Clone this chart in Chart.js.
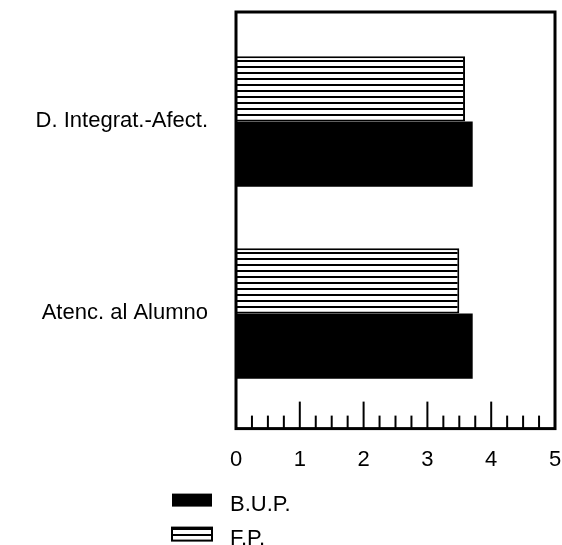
<!DOCTYPE html>
<html>
<head>
<meta charset="utf-8">
<script src="https://cdn.jsdelivr.net/npm/chart.js@4.4.1/dist/chart.umd.min.js"></script>
<style>
  html, body { margin: 0; padding: 0; background: #fff; }
  #wrap { width: 562px; height: 545px; }
</style>
</head>
<body>
<div id="wrap"><canvas id="chart" width="562" height="545"></canvas></div>
<script>
// Data
const CATEGORIES = ['D. Integrat.-Afect.', 'Atenc. al Alumno'];
const SERIES_LABELS = ['B.U.P.', 'F.P.'];
const BUP_VALUES = [3.71, 3.71];
const FP_VALUES = [3.59, 3.50];
const X_MIN = 0;
const X_MAX = 5;
const X_MINOR_STEP = 0.25;

Chart.defaults.font.family = "'Liberation Sans', Arial, sans-serif";
Chart.defaults.color = '#000';

// Horizontal stripes for the F.P. bars
function makeStripes() {
  const c = document.createElement('canvas');
  c.width = 6;
  c.height = 6;
  const g = c.getContext('2d');
  g.fillStyle = '#fff';
  g.fillRect(0, 0, 6, 6);
  g.fillStyle = '#000';
  g.fillRect(0, 0, 6, 2);
  return g.createPattern(c, 'repeat');
}
const stripes = makeStripes();

/**
 * Frame round the plot and the inside ticks on the bottom axis
 */
const framePlugin = {
  id: 'frame',
  afterDraw(chart) {
    const { ctx, chartArea } = chart;
    const xScale = chart.scales.x;
    ctx.save();
    ctx.strokeStyle = '#000';
    ctx.lineWidth = 3;
    ctx.strokeRect(chartArea.left, chartArea.top, chartArea.width, chartArea.height);

    ctx.lineWidth = 2;
    xScale.ticks.forEach(t => {
      const x = xScale.getPixelForValue(t.value);
      const len = Number.isInteger(t.value) ? 27 : 13;
      ctx.beginPath();
      ctx.moveTo(x, chartArea.bottom);
      ctx.lineTo(x, chartArea.bottom - len);
      ctx.stroke();
    });
    ctx.restore();
  }
};

/**
 * Stacked legend below the axis labels (B.U.P. first, as in the original)
 */
const legendPlugin = {
  id: 'stackLegend',
  afterDraw(chart) {
    const { ctx, chartArea } = chart;
    const items = chart.data.datasets.slice().reverse();
    ctx.save();
    ctx.font = "22px 'Liberation Sans', Arial, sans-serif";
    ctx.textBaseline = 'middle';
    items.forEach((ds, i) => {
      const cy = chartArea.bottom + 71 + i * 34;
      ctx.fillStyle = ds.backgroundColor;
      ctx.fillRect(172, cy - 6, 40, 13);
      if (ds.borderWidth) {
        ctx.strokeStyle = '#000';
        ctx.lineWidth = 2;
        ctx.strokeRect(172, cy - 6, 40, 13);
      }
      ctx.fillStyle = '#000';
      ctx.fillText(ds.label, 230, cy + 5);
    });
    ctx.restore();
  }
};

const ctx = document.getElementById('chart').getContext('2d');
new Chart(ctx, {
  type: 'bar',
  data: {
    datasets: [
      {
        label: SERIES_LABELS[1],
        data: FP_VALUES.map((v, i) => ({ x: v, y: i })),
        backgroundColor: stripes,
        borderColor: '#000',
        borderWidth: 2
      },
      {
        label: SERIES_LABELS[0],
        data: BUP_VALUES.map((v, i) => ({ x: v, y: i })),
        backgroundColor: '#000',
        borderWidth: 0
      }
    ]
  },
  options: {
    indexAxis: 'y',
    responsive: false,
    animation: false,
    categoryPercentage: 0.68,
    barPercentage: 1,
    layout: { padding: { top: 12, right: 7, bottom: 54, left: 0 } },
    plugins: {
      legend: { display: false },
      tooltip: { enabled: false }
    },
    scales: {
      x: {
        type: 'linear',
        min: X_MIN,
        max: X_MAX,
        grid: { display: false, drawTicks: false },
        border: { display: false },
        afterFit: scale => { scale.paddingLeft = 0; scale.paddingRight = 0; },
        ticks: {
          stepSize: X_MINOR_STEP,
          autoSkip: false,
          maxRotation: 0,
          padding: 18,
          font: { size: 22 },
          callback: v => Number.isInteger(v) ? String(v) : ''
        }
      },
      y: {
        type: 'linear',
        reverse: true,
        offset: false,
        min: -0.57,
        max: 1.6,
        grid: { display: false, drawTicks: false, offset: false },
        border: { display: false },
        afterBuildTicks: scale => {
          scale.ticks = CATEGORIES.map((_, i) => ({ value: i }));
        },
        afterFit: scale => {
          scale.width = 236;
          scale.paddingTop = 0;
          scale.paddingBottom = 0;
        },
        ticks: {
          padding: 28,
          font: { size: 22, lineHeight: 1 },
          callback: v => CATEGORIES[v] ?? ''
        }
      }
    }
  },
  plugins: [framePlugin, legendPlugin]
});
</script>
</body>
</html>
